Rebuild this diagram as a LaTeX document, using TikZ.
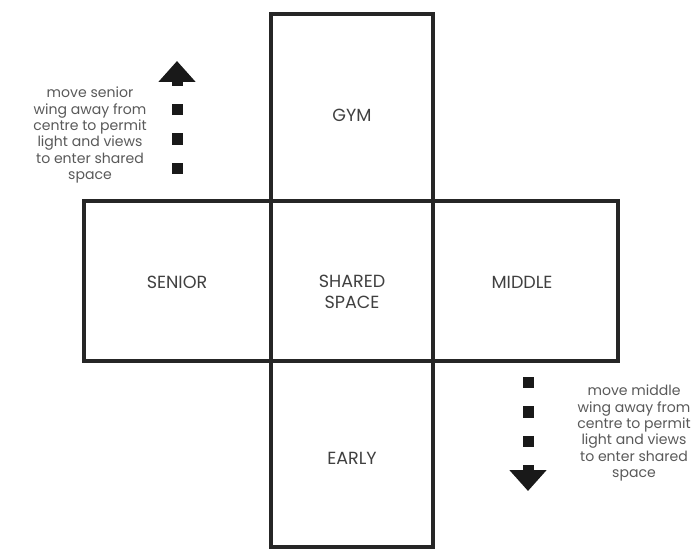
\documentclass[tikz,border=0pt]{standalone}
\usepackage{fontspec}
\setmainfont{Poppins}
\usetikzlibrary{arrows.meta}
\tikzset{
  wall/.style={line width=0.07cm, color=black!85},
  room/.style={font=\fontsize{10}{12}\selectfont, color=black!75, align=center},
  note/.style={font=\fontsize{8}{9.3}\selectfont, color=black!65, align=center},
  move/.style={line width=0.22cm, color=black!90, dash pattern=on 0.23cm off 0.36cm,
    -{Triangle[width=0.72cm,length=0.42cm]}}
}

\begin{document}
\begin{tikzpicture}[x=0.02cm, y=-0.02cm]
		%%%%% START %%%%%
		\useasboundingbox (0, 0) rectangle (699, 550);
		
		% the cross of rooms
		\draw[wall] (271, 14) rectangle (433, 547);
		\draw[wall] (84, 201) rectangle (618, 361);
		
		\node[room] (gym) at (352, 115) {GYM};
		\node[room] (senior) at (177, 282) {SENIOR};
		\node[room] (shared) at (352, 292) {SHARED\\SPACE};
		\node[room] (middle) at (522, 282) {MIDDLE};
		\node[room] (early) at (352, 458) {EARLY};
		
		% senior wing moves up
		\node[note] (seniornote) at (90, 135) {move senior\\wing away from\\centre to permit\\light and views\\to enter shared\\space};
		\coordinate (seniorfrom) at (177, 174);
		\coordinate (seniorto) at (177, 61);
		\draw[move] (seniorfrom) -- (seniorto);
		
		% middle wing moves down
		\node[note] (middlenote) at (634, 433) {move middle\\wing away from\\centre to permit\\light and views\\to enter shared\\space};
		\coordinate (middlefrom) at (528, 377);
		\coordinate (middleto) at (528, 491);
		\draw[move] (middlefrom) -- (middleto);
		
		%%%%% END %%%%%
	\end{tikzpicture}
\end{document}
